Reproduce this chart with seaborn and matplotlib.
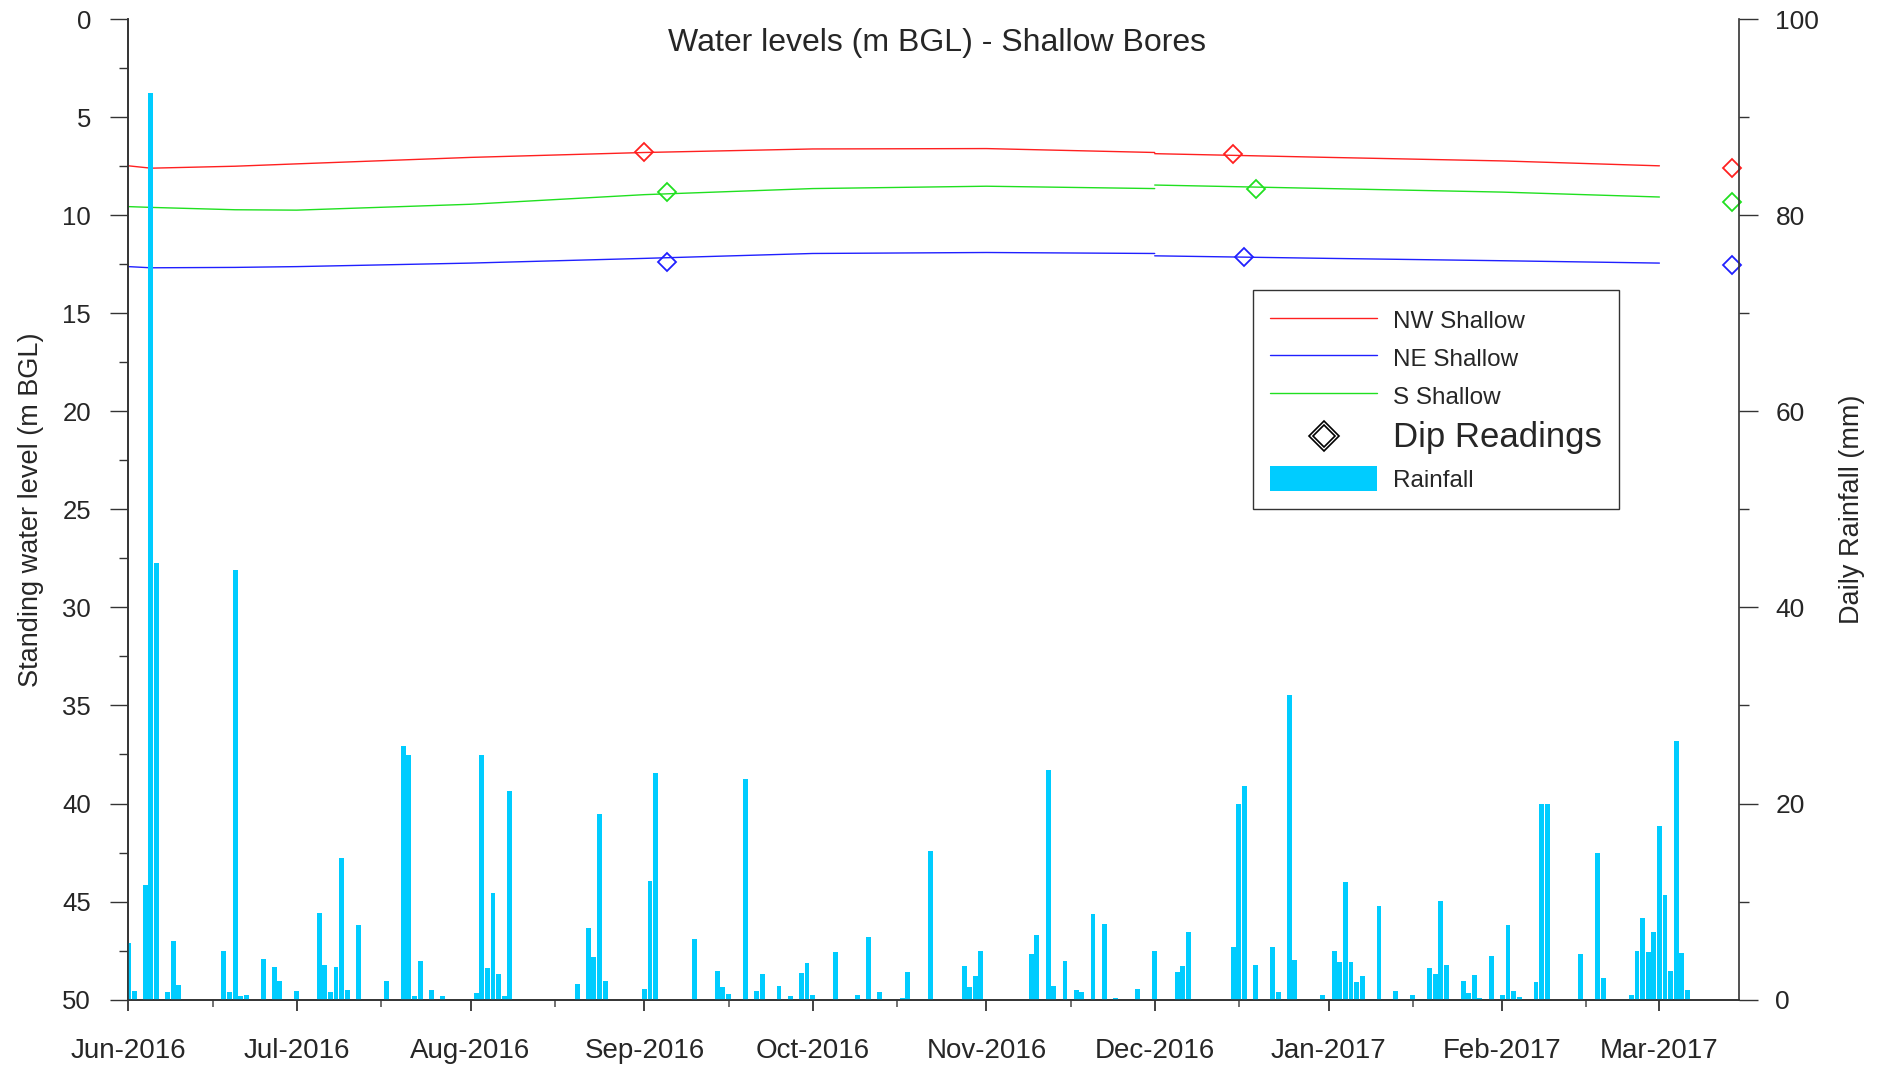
import pandas as pd
import seaborn as sns
import matplotlib.pyplot as plt
import matplotlib.dates as mdates
from matplotlib.ticker import MultipleLocator
from matplotlib.lines import Line2D
from matplotlib.patches import Patch

# --- data ---
start = pd.Timestamp('2016-06-01')

# daily rainfall (mm), day number counted from 1 Jun 2016
rain_day = [0, 1, 3, 4, 5, 7, 8, 9, 17, 18, 19, 20, 21, 24, 26, 27, 30, 34, 35, 36,
            37, 38, 39, 41, 46, 49, 50, 51, 52, 54, 56, 62, 63, 64, 65, 66, 67, 68,
            80, 82, 83, 84, 85, 92, 93, 94, 101, 105, 106, 107, 110, 112, 113, 116,
            118, 120, 121, 122, 126, 130, 132, 134, 138, 139, 143, 149, 150, 151, 152,
            161, 162, 164, 165, 167, 169, 170, 172, 174, 176, 180, 183, 187, 188, 189,
            197, 198, 199, 201, 204, 205, 207, 208, 213, 215, 216, 217, 218, 219, 220,
            223, 226, 229, 232, 233, 234, 235, 238, 239, 240, 241, 243, 245, 246, 247,
            248, 251, 252, 253, 259, 262, 263, 268, 269, 270, 271, 272, 273, 274, 275,
            276, 277, 278]
rain_mm = [5.8, 0.9, 11.7, 92.5, 44.5, 0.8, 6.0, 1.5, 5.0, 0.8, 43.8, 0.4, 0.5, 4.1, 3.3, 1.9, 0.9, 8.8, 3.5, 0.75,
           3.3, 14.4, 1.0, 7.6, 1.9, 25.9, 24.9, 0.35, 3.9, 0.95, 0.35, 0.65, 24.9, 3.2, 10.9, 2.6, 0.35, 21.3,
           1.6, 7.3, 4.3, 18.9, 1.9, 1.05, 12.1, 23.1, 6.2, 2.9, 1.25, 0.55, 22.5, 0.85, 2.6, 1.35,
           0.35, 2.7, 3.7, 0.45, 4.9, 0.45, 6.4, 0.75, 0.15, 2.8, 15.2, 3.4, 1.25, 2.4, 5.0,
           4.6, 6.6, 23.4, 1.35, 3.9, 0.95, 0.75, 8.7, 7.7, 0.15, 1.05, 5.0, 2.8, 3.4, 6.9,
           5.4, 19.9, 21.8, 3.5, 5.4, 0.75, 31.1, 4.0, 0.45, 5.0, 3.8, 12.0, 3.8, 1.8, 2.4,
           9.5, 0.85, 0.45, 3.2, 2.6, 10.1, 3.5, 1.9, 0.65, 2.5, 0.15, 4.4, 0.45, 7.6, 0.85,
           0.25, 1.8, 19.9, 19.9, 4.6, 15.0, 2.2, 0.45, 5.0, 8.3, 4.9, 6.9, 17.7, 10.7, 2.9,
           26.4, 4.8, 0.95]

# logger water levels (m BGL) - two runs, split at the 1 Dec download
run1_dates = ['2016-06-01', '2016-06-05', '2016-06-20', '2016-07-01', '2016-08-01',
              '2016-09-01', '2016-10-01', '2016-11-01', '2016-12-01']
run2_dates = ['2016-12-01', '2017-01-01', '2017-02-01', '2017-03-01']
nw_run1 = [7.48, 7.6, 7.5, 7.38, 7.05, 6.8, 6.62, 6.6, 6.8]
nw_run2 = [6.86, 7.05, 7.23, 7.48]
ne_run1 = [12.62, 12.68, 12.66, 12.62, 12.44, 12.2, 11.95, 11.9, 11.95]
ne_run2 = [12.07, 12.2, 12.32, 12.44]
s_run1 = [9.56, 9.6, 9.72, 9.74, 9.44, 8.95, 8.64, 8.52, 8.64]
s_run2 = [8.46, 8.64, 8.82, 9.07]

# manual dip readings (m BGL)
nw_dip_dates = ['2016-09-01', '2016-12-15', '2017-03-14']
nw_dips = [6.8, 6.86, 7.6]
ne_dip_dates = ['2016-09-05', '2016-12-17', '2017-03-14']
ne_dips = [12.4, 12.15, 12.55]
s_dip_dates = ['2016-09-05', '2016-12-19', '2017-03-14']
s_dips = [8.82, 8.64, 9.3]

bores = ['NW Shallow', 'NE Shallow', 'S Shallow']
colors = {'NW Shallow': '#ff2020', 'NE Shallow': '#2020ff', 'S Shallow': '#20e020'}

# build long table for seaborn
rows = []
for bore, r1, r2 in [('NW Shallow', nw_run1, nw_run2),
                     ('NE Shallow', ne_run1, ne_run2),
                     ('S Shallow', s_run1, s_run2)]:
    for d, v in zip(run1_dates, r1):
        rows.append({'date': pd.Timestamp(d), 'level': v, 'bore': bore, 'run': 1})
    for d, v in zip(run2_dates, r2):
        rows.append({'date': pd.Timestamp(d), 'level': v, 'bore': bore, 'run': 2})
df_levels = pd.DataFrame(rows)

dips = {'NW Shallow': (nw_dip_dates, nw_dips),
        'NE Shallow': (ne_dip_dates, ne_dips),
        'S Shallow': (s_dip_dates, s_dips)}

rain_dates = [start + pd.Timedelta(days=d) for d in rain_day]

# --- plot ---
sns.set_style('ticks')
plt.rcParams['font.family'] = ['Liberation Sans', 'DejaVu Sans']

fig = plt.figure(figsize=(18.84, 10.70), dpi=100)
ax = fig.add_axes([0.0682, 0.0658, 0.855, 0.9163])
ax2 = ax.twinx()

sns.lineplot(data=df_levels, x='date', y='level', hue='bore', units='run',
             estimator=None, palette=colors, linewidth=1.0, legend=False, ax=ax)

for bore in bores:
    d, v = dips[bore]
    ax.plot(pd.to_datetime(d), v, linestyle='none', marker='D', markersize=9,
            markerfacecolor='none', markeredgecolor=colors[bore], markeredgewidth=1.3,
            clip_on=False, zorder=5)

ax2.bar(rain_dates, rain_mm, width=0.88, color='#00ccff', linewidth=0)

ax.set_ylim(50, 0)
ax2.set_ylim(0, 100)
ax.set_xlim(start, pd.Timestamp('2017-03-15 06:00'))

ax.xaxis.set_major_locator(mdates.MonthLocator())
ax.xaxis.set_minor_locator(mdates.MonthLocator(bymonthday=16))
ax.xaxis.set_major_formatter(mdates.DateFormatter('%b-%Y'))
ax.yaxis.set_major_locator(MultipleLocator(5))
ax.yaxis.set_minor_locator(MultipleLocator(2.5))
ax2.yaxis.set_major_locator(MultipleLocator(20))
ax2.yaxis.set_minor_locator(MultipleLocator(10))

ax.tick_params(axis='y', which='major', length=13, width=1, labelsize=18.5, pad=14, color='#333333')
ax.tick_params(axis='y', which='minor', length=6.5, width=1, color='#333333')
ax.tick_params(axis='x', which='major', length=8, width=1.3, labelsize=20, pad=20, color='#333333')
ax.tick_params(axis='x', which='minor', length=5, width=1.3, color='#666666')
ax2.tick_params(axis='y', which='major', length=14, width=1, labelsize=19, pad=12, color='#333333')
ax2.tick_params(axis='y', which='minor', length=7, width=1, color='#333333')

for a in (ax, ax2):
    a.spines['top'].set_visible(False)
    for s in ('left', 'right', 'bottom'):
        a.spines[s].set_color('#333333')
        a.spines[s].set_linewidth(1.2)
ax.spines['right'].set_visible(False)

ax.set_xlabel('')
ax.set_ylabel('Standing water level (m BGL)', fontsize=19.5, labelpad=13)
ax2.set_ylabel('Daily Rainfall (mm)', fontsize=19.5, labelpad=14)

ax.text(0.502, 0.976, 'Water levels (m BGL) - Shallow Bores', transform=ax.transAxes,
        ha='center', va='center', fontsize=23)

# legend
handles = [Line2D([], [], color=colors['NW Shallow'], lw=1),
           Line2D([], [], color=colors['NE Shallow'], lw=1),
           Line2D([], [], color=colors['S Shallow'], lw=1),
           (Line2D([], [], ls='none', marker='D', ms=15, mfc='none', mec='black', mew=1.2),
            Line2D([], [], ls='none', marker='D', ms=11, mfc='none', mec='black', mew=1.2)),
           Patch(facecolor='#00ccff', edgecolor='none')]
labels = ['NW Shallow', 'NE Shallow', 'S Shallow', 'Dip Readings', 'Rainfall']
leg = ax2.legend(handles, labels, loc='upper left', bbox_to_anchor=(0.698, 0.724),
                 borderaxespad=0, fontsize=17.5, handlelength=4.4, handleheight=1.2,
                 labelspacing=0.5, handletextpad=0.65, borderpad=0.72,
                 frameon=True, fancybox=False, edgecolor='#333333', framealpha=1)
leg.get_frame().set_linewidth(1.0)
leg.get_texts()[3].set_fontsize(25)

fig.savefig('out.png', dpi=100)
